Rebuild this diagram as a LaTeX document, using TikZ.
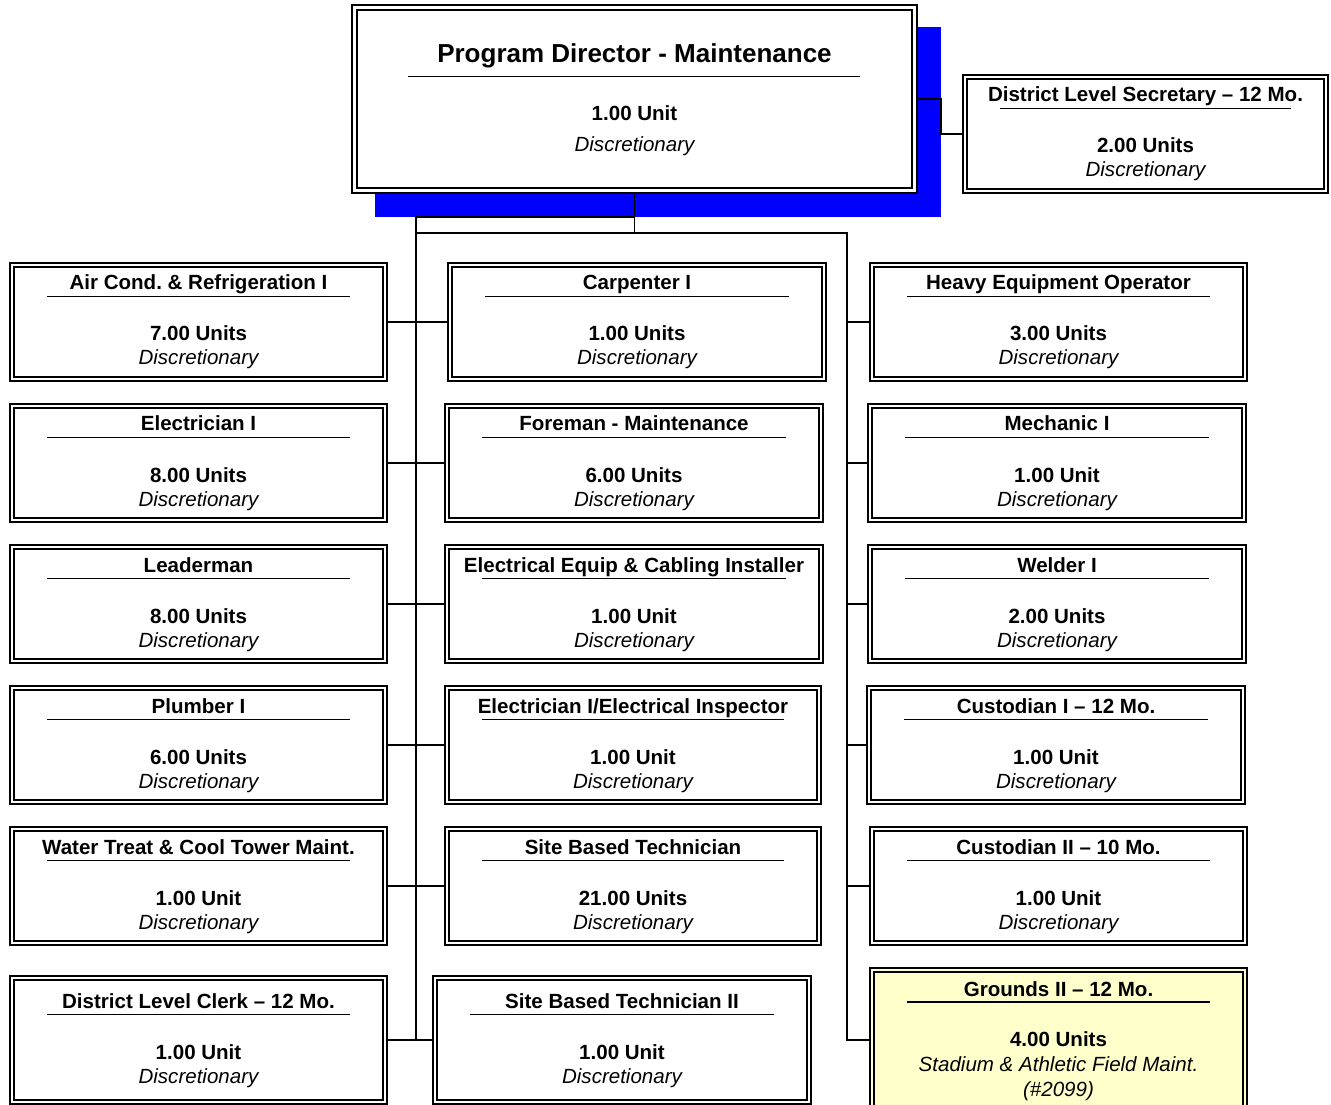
\documentclass[tikz,border=0pt]{standalone}
\usepackage{fontspec}
\setmainfont{Liberation Sans}
\definecolor{groundsfill}{RGB}{255,255,204}
\begin{document}
\frenchspacing
\begin{tikzpicture}
% Maintenance staffing chart, coordinates are pixels of the sheet (y runs down)
\def\px{0.75pt}
\providecommand{\chartShadowColor}{blue}
\providecommand{\chartLineWidth}{1.3pt}
\providecommand{\chartFrameWidth}{0.8pt}
\providecommand{\chartInnerWidth}{1.6pt}
\providecommand{\chartFont}{\fontsize{15.4}{18}\selectfont}
\tikzset{
  jobframe/.style={draw, line width=\chartFrameWidth, fill=white, inner sep=0pt, outer sep=0pt},
  jobinner/.style={draw, line width=\chartInnerWidth},
  jobrule/.style={draw, line width=1.3pt},
  jobtitle/.style={anchor=base, inner sep=0pt, font=\chartFont\bfseries},
  jobunits/.style={anchor=base, inner sep=0pt, font=\chartFont\bfseries},
  jobnote/.style={anchor=base, inner sep=0pt, font=\chartFont\itshape},
  link/.style={draw, line width=\chartLineWidth, line cap=rect},
}
% one position box: name, x, y, width, height, title, units, note
\providecommand{\jobbox}[8]{%
  \node[jobframe, minimum width=#4*\px, minimum height=#5*\px] (#1) at (#2,#3) {};
  \draw[jobinner] ([shift={(4,4)}]#1.north west) rectangle ([shift={(-4,-4)}]#1.south east);
  \node[jobtitle] (#1-t) at ([yshift=32*\px]#1.center) {#6};
  \draw[jobrule] ([xshift=37*\px,yshift=25.5*\px]#1.west) -- ([xshift=-37*\px,yshift=25.5*\px]#1.east);
  \node[jobunits] (#1-u) at ([yshift=-19*\px]#1.center) {#7};
  \node[jobnote] (#1-n) at ([yshift=-43*\px]#1.center) {#8};
}
\begin{scope}[x=\px, y=-\px]
  \useasboundingbox (0,0) rectangle (1331,1105);
  % Shadow behind the director
  \fill[\chartShadowColor] (375,27) rectangle (941,217);
  % Director
  \node[jobframe, minimum width=565*\px, minimum height=188*\px] (dir) at (634.5,99) {};
  \draw[jobinner] ([shift={(5,5)}]dir.north west) rectangle ([shift={(-5,-5)}]dir.south east);
  \node[jobtitle, font=\fontsize{19.5}{23}\selectfont\bfseries] (dir-t) at (634.5,63) {Program Director - Maintenance};
  \draw[jobrule] (408,76.5) -- (860,76.5);
  \node[jobunits] (dir-u) at (634.5,120.5) {1.00 Unit};
  \node[jobnote] (dir-n) at (634.5,151.5) {Discretionary};
  % Secretary
  \jobbox{sec}{1145.5}{134}{365}{118}{District Level Secretary – 12 Mo.}{2.00 Units}{Discretionary}
  % Left column
  \jobbox{ac}{198.5}{322}{377}{118}{Air Cond. \& Refrigeration I}{7.00 Units}{Discretionary}
  \jobbox{elec}{198.5}{463}{377}{118}{Electrician I}{8.00 Units}{Discretionary}
  \jobbox{lead}{198.5}{604}{377}{118}{Leaderman}{8.00 Units}{Discretionary}
  \jobbox{plumb}{198.5}{745}{377}{118}{Plumber I}{6.00 Units}{Discretionary}
  \jobbox{water}{198.5}{886}{377}{118}{Water Treat \& Cool Tower Maint.}{1.00 Unit}{Discretionary}
  \jobbox{clerk}{198.5}{1040}{377}{128}{District Level Clerk – 12 Mo.}{1.00 Unit}{Discretionary}
  % Middle column
  \jobbox{carp}{637}{322}{378}{118}{Carpenter I}{1.00 Units}{Discretionary}
  \jobbox{fore}{634}{463}{378}{118}{Foreman - Maintenance}{6.00 Units}{Discretionary}
  \jobbox{cable}{634}{604}{378}{118}{Electrical Equip \& Cabling Installer}{1.00 Unit}{Discretionary}
  \jobbox{insp}{633}{745}{376}{118}{Electrician I/Electrical Inspector}{1.00 Unit}{Discretionary}
  \jobbox{tech}{633}{886}{376}{118}{Site Based Technician}{21.00 Units}{Discretionary}
  \jobbox{techii}{622}{1040}{378}{128}{Site Based Technician II}{1.00 Unit}{Discretionary}
  % Right column
  \jobbox{heavy}{1058.5}{322}{377}{118}{Heavy Equipment Operator}{3.00 Units}{Discretionary}
  \jobbox{mech}{1057}{463}{378}{118}{Mechanic I}{1.00 Unit}{Discretionary}
  \jobbox{weld}{1057}{604}{378}{118}{Welder I}{2.00 Units}{Discretionary}
  \jobbox{custi}{1056}{745}{378}{118}{Custodian I – 12 Mo.}{1.00 Unit}{Discretionary}
  \jobbox{custii}{1058.5}{886}{377}{118}{Custodian II – 10 Mo.}{1.00 Unit}{Discretionary}
  % Grounds (highlighted, three text lines)
  \node[jobframe, fill=groundsfill, minimum width=377*\px, minimum height=144*\px] (grounds) at (1058.5,1040) {};
  \draw[jobinner] ([shift={(4,4)}]grounds.north west) rectangle ([shift={(-4,-4)}]grounds.south east);
  \node[jobtitle] (grounds-t) at (1058.5,996) {Grounds II – 12 Mo.};
  \draw[jobrule] (907,1002) -- (1210,1002);
  \node[jobunits] (grounds-u) at (1058.5,1046) {4.00 Units};
  \node[jobnote] (grounds-n) at (1058.5,1071) {Stadium \& Athletic Field Maint.};
  \node[jobnote] (grounds-c) at (1058.5,1096) {(\#2099)};
  % Connectors
  \coordinate (lhub) at (416,217);
  \coordinate (rhub) at (847,233);
  \coordinate (sbend) at (941,99);
  \draw[link] (dir.east) -- (sbend) -- (sbend |- sec.west) -- (sec.west);
  \draw[link] (dir.south) -- (dir.south |- rhub);
  \draw[link] (lhub) -- (lhub -| dir.south);
  \draw[link] (lhub |- rhub) -- (rhub);
  \draw[link] (lhub) -- (lhub |- clerk.east);
  \draw[link] (rhub) -- (rhub |- grounds.west);
  % Left to middle rows
  \draw[link] (ac.east) -- (carp.west);
  \draw[link] (elec.east) -- (fore.west);
  \draw[link] (lead.east) -- (cable.west);
  \draw[link] (plumb.east) -- (insp.west);
  \draw[link] (water.east) -- (tech.west);
  \draw[link] (clerk.east) -- (techii.west);
  % Right column stubs
  \draw[link] (rhub |- heavy.west) -- (heavy.west);
  \draw[link] (rhub |- mech.west) -- (mech.west);
  \draw[link] (rhub |- weld.west) -- (weld.west);
  \draw[link] (rhub |- custi.west) -- (custi.west);
  \draw[link] (rhub |- custii.west) -- (custii.west);
  \draw[link] (rhub |- grounds.west) -- (grounds.west);
\end{scope}
\end{tikzpicture}
\end{document}
